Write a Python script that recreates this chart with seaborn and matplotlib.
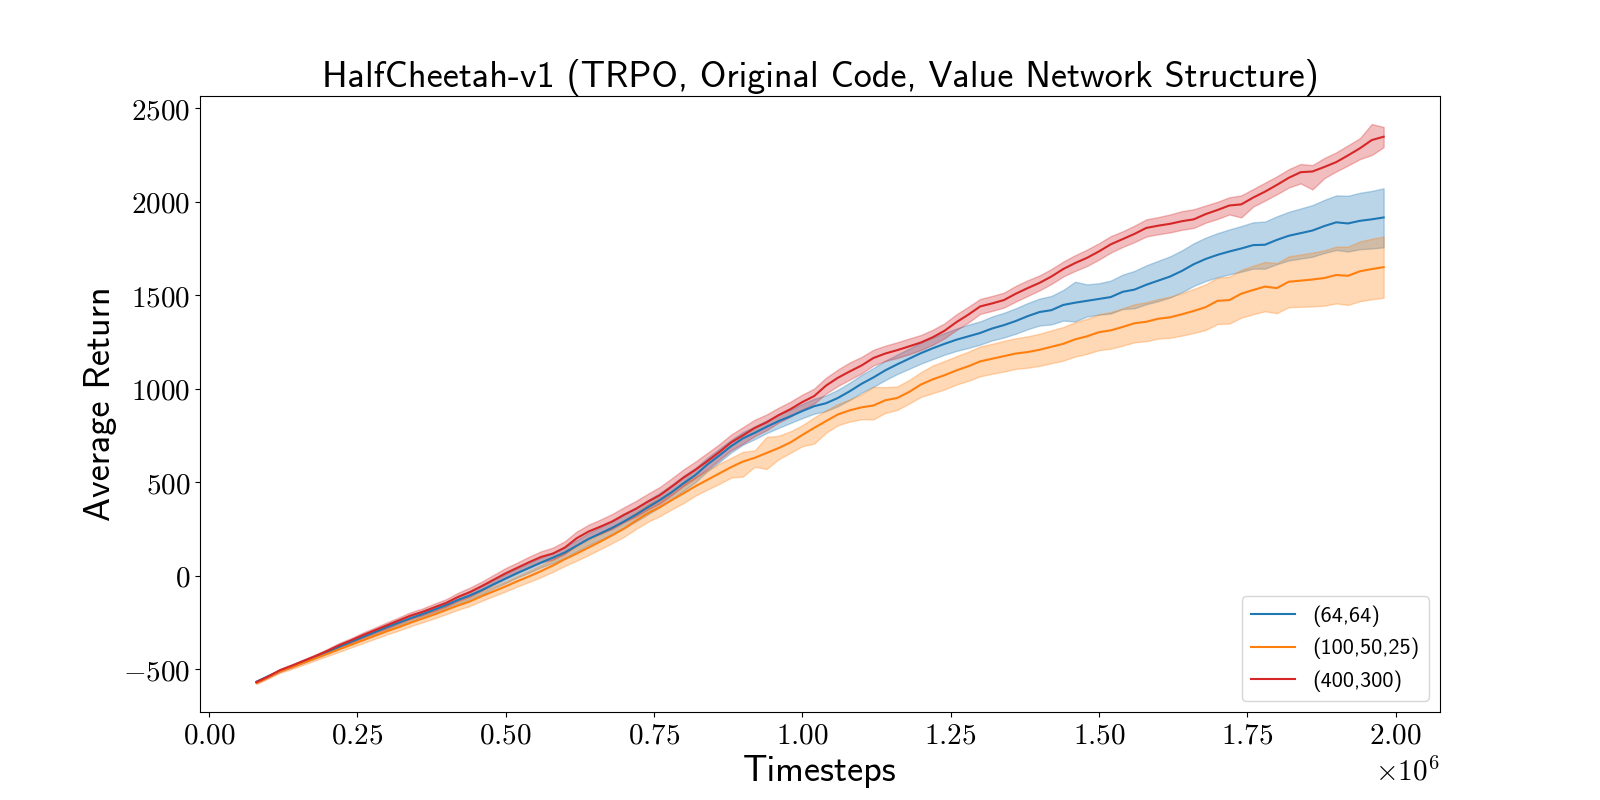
import numpy as np
import pandas as pd
import matplotlib
matplotlib.use("Agg")
import matplotlib.pyplot as plt
from matplotlib.ticker import FuncFormatter, MultipleLocator
import seaborn as sns

# ---------------- data (timesteps in millions) ----------------
timesteps_m = [0.08, 0.10, 0.12, 0.14, 0.16, 0.18, 0.20, 0.22, 0.24, 0.26,
               0.28, 0.30, 0.32, 0.34, 0.36, 0.38, 0.40, 0.42, 0.44, 0.46,
               0.48, 0.50, 0.52, 0.54, 0.56, 0.58, 0.60, 0.62, 0.64, 0.66,
               0.68, 0.70, 0.72, 0.74, 0.76, 0.78, 0.80, 0.82, 0.84, 0.86,
               0.88, 0.90, 0.92, 0.94, 0.96, 0.98, 1.00, 1.02, 1.04, 1.06,
               1.08, 1.10, 1.12, 1.14, 1.16, 1.18, 1.20, 1.22, 1.24, 1.26,
               1.28, 1.30, 1.32, 1.34, 1.36, 1.38, 1.40, 1.42, 1.44, 1.46,
               1.48, 1.50, 1.52, 1.54, 1.56, 1.58, 1.60, 1.62, 1.64, 1.66,
               1.68, 1.70, 1.72, 1.74, 1.76, 1.78, 1.80, 1.82, 1.84, 1.86,
               1.88, 1.90, 1.92, 1.94, 1.96, 1.98]

labels = ["(64,64)", "(100,50,25)", "(400,300)"]
colors = ["#1f77b4", "#ff7f0e", "#d62728"]

# (64,64)
mean_64_64 = [-568, -538, -508, -484, -458, -434, -408, -380, -354, -328,
              -302, -276, -252, -228, -206, -182, -158, -130, -106, -78,
              -46, -16, 14, 42, 70, 96, 124, 160, 196, 226,
              256, 290, 326, 366, 404, 446, 494, 538, 594, 642,
              692, 734, 764, 796, 826, 852, 880, 906, 922, 950,
              986, 1026, 1060, 1098, 1130, 1160, 1190, 1216, 1240, 1262,
              1280, 1298, 1322, 1340, 1362, 1388, 1410, 1420, 1448, 1460,
              1470, 1480, 1490, 1518, 1530, 1556, 1578, 1600, 1630, 1666,
              1694, 1716, 1734, 1750, 1768, 1770, 1796, 1818, 1832, 1846,
              1870, 1890, 1884, 1898, 1906, 1916]
upper_64_64 = [5, 5, 6, 7, 8, 8, 9,
               10, 10, 12, 12, 14, 14, 16, 16, 18, 18,
               20, 20, 22, 22, 24, 24, 26, 26, 28, 30,
               30, 32, 34, 34, 36, 36, 38, 38, 40, 40,
               38, 36, 36, 34, 34, 34, 34, 36, 36, 38,
               40, 42, 44, 46, 48, 50, 52, 52, 54, 56,
               58, 58, 60, 62, 62, 64, 66, 68, 70, 72,
               76, 80, 112, 88, 84, 88, 92, 100, 104, 106,
               108, 110, 112, 114, 116, 118, 120, 122, 124, 126,
               128, 132, 136, 140, 144, 148, 150, 152, 156]
lower_64_64 = [5, 5, 6, 7, 8, 8, 9,
               10, 10, 12, 12, 14, 14, 16, 16, 18, 18,
               20, 20, 22, 22, 24, 24, 26, 26, 28, 30,
               30, 32, 34, 34, 36, 36, 38, 38, 40, 40,
               38, 36, 36, 34, 34, 34, 34, 36, 36, 38,
               40, 42, 44, 46, 48, 50, 52, 52, 54, 56,
               58, 58, 60, 62, 62, 64, 66, 68, 70, 72,
               76, 84, 100, 84, 84, 88, 92, 100, 104, 110,
               112, 114, 116, 118, 120, 122, 124, 126, 128, 130,
               132, 136, 140, 144, 148, 150, 152, 156, 160]

# (100,50,25)
mean_100_50_25 = [-574, -544, -512, -490, -466, -442, -418, -394, -370, -346,
                  -322, -298, -276, -252, -230, -208, -184, -160, -138, -110,
                  -84, -58, -30, -4, 24, 54, 88, 118, 150, 182,
                  216, 252, 294, 334, 366, 404, 440, 478, 512, 546,
                  580, 610, 630, 656, 682, 712, 752, 790, 826, 862,
                  884, 900, 910, 938, 950, 982, 1022, 1050, 1072, 1098,
                  1120, 1146, 1160, 1174, 1188, 1196, 1208, 1224, 1240, 1264,
                  1280, 1302, 1312, 1330, 1350, 1358, 1374, 1382, 1398, 1416,
                  1436, 1470, 1474, 1508, 1528, 1546, 1538, 1572, 1578, 1584,
                  1592, 1608, 1604, 1628, 1640, 1650]
upper_100_50_25 = [6, 7, 8, 9, 10, 11, 12,
                   13, 14, 15, 16, 17, 18, 19, 20, 21, 22,
                   23, 24, 25, 26, 27, 28, 30, 32, 34, 36,
                   38, 40, 40, 42, 44, 44, 46, 48, 50, 52,
                   50, 50, 52, 50, 52, 40, 86, 66, 60, 52,
                   56, 58, 56, 58, 70, 100, 70, 62, 64, 66,
                   74, 76, 76, 78, 80, 80, 82, 82, 84, 86,
                   88, 90, 92, 94, 96, 98, 100, 102, 104, 106,
                   110, 114, 118, 122, 124, 126, 128, 130, 132, 134,
                   136, 140, 144, 148, 152, 156, 160, 162, 164]
lower_100_50_25 = [6, 7, 8, 9, 10, 11, 12,
                   13, 14, 15, 16, 17, 18, 19, 20, 21, 22,
                   23, 24, 25, 26, 27, 28, 30, 32, 34, 36,
                   38, 40, 40, 42, 44, 44, 46, 48, 50, 52,
                   50, 52, 56, 56, 80, 48, 86, 60, 56, 60,
                   84, 62, 58, 60, 64, 74, 68, 64, 62, 66,
                   74, 76, 76, 78, 80, 80, 82, 82, 84, 86,
                   88, 90, 92, 94, 96, 98, 100, 102, 104, 106,
                   110, 114, 118, 122, 124, 126, 128, 130, 132, 134,
                   136, 140, 144, 148, 152, 156, 160, 162, 164]

# (400,300)
mean_400_300 = [-570, -540, -506, -482, -456, -430, -402, -372, -346, -318,
                -292, -266, -240, -214, -194, -170, -146, -114, -88, -56,
                -22, 12, 42, 72, 100, 118, 150, 200, 236, 262,
                290, 326, 358, 396, 430, 476, 524, 566, 612, 660,
                712, 750, 790, 820, 858, 890, 928, 960, 1016, 1058,
                1092, 1124, 1164, 1188, 1206, 1226, 1247, 1275, 1310, 1356,
                1396, 1440, 1456, 1474, 1508, 1538, 1566, 1600, 1640, 1672,
                1700, 1734, 1772, 1800, 1828, 1860, 1872, 1882, 1896, 1906,
                1934, 1956, 1980, 1986, 2022, 2054, 2090, 2128, 2158, 2162,
                2186, 2212, 2248, 2286, 2330, 2348]
upper_400_300 = [6, 6, 7, 8, 8, 9, 10,
                 12, 12, 14, 14, 16, 16, 18, 18, 20, 20,
                 22, 24, 24, 26, 28, 28, 30, 30, 32, 34,
                 36, 36, 38, 40, 40, 42, 42, 44, 44, 44,
                 44, 44, 42, 42, 44, 44, 42, 40, 40, 40,
                 40, 42, 44, 48, 46, 44, 42, 42, 42, 40,
                 40, 40, 42, 42, 40, 40, 40, 42, 42, 40,
                 40, 40, 42, 44, 44, 44, 42, 44, 46, 46,
                 50, 54, 54, 46, 44, 44, 48, 46, 48, 46,
                 46, 44, 34, 48, 52, 54, 54, 86, 52]
lower_400_300 = [6, 6, 7, 8, 8, 9, 10,
                 12, 12, 14, 14, 16, 16, 18, 18, 20, 20,
                 22, 24, 24, 26, 28, 28, 30, 30, 32, 34,
                 36, 36, 38, 40, 40, 42, 42, 44, 44, 44,
                 44, 44, 42, 42, 44, 44, 42, 40, 40, 40,
                 40, 42, 44, 44, 42, 40, 40, 42, 42, 40,
                 40, 40, 42, 42, 40, 40, 40, 42, 42, 40,
                 40, 40, 42, 44, 44, 44, 42, 44, 46, 46,
                 46, 46, 46, 46, 48, 48, 70, 48, 48, 50,
                 52, 60, 96, 60, 50, 54, 58, 80, 56]

means = [mean_64_64, mean_100_50_25, mean_400_300]
uppers = [upper_64_64, upper_100_50_25, upper_400_300]
lowers = [lower_64_64, lower_100_50_25, lower_400_300]

# ---------------- plotting ----------------
plt.rcParams["mathtext.fontset"] = "cm"
plt.rcParams["axes.unicode_minus"] = True

fig, ax = plt.subplots(figsize=(16, 8), dpi=100)

steps = np.array(timesteps_m) * 1e6
for lab, col, m, up, lo in zip(labels, colors, means, uppers, lowers):
    m = np.array(m, dtype=float)
    up = np.array(up, dtype=float)
    lo = np.array(lo, dtype=float)
    df = pd.DataFrame({"Timesteps": steps, "Average Return": m})
    sns.lineplot(data=df, x="Timesteps", y="Average Return", color=col,
                 linewidth=1.5, label=lab, ax=ax)
    ax.fill_between(steps, m - lo, m + up, color=col, alpha=0.3, linewidth=1)

ax.xaxis.set_major_locator(MultipleLocator(250000))
ax.yaxis.set_major_locator(MultipleLocator(500))
ax.xaxis.set_major_formatter(FuncFormatter(lambda v, p: f"${v/1e6:.2f}$"))
ax.yaxis.set_major_formatter(FuncFormatter(lambda v, p: f"${v:.0f}$"))
ax.tick_params(labelsize=21)
ax.text(1.0, -0.074, r"$\times10^{6}$", transform=ax.transAxes,
        ha="right", va="top", fontsize=21)

sans = {"family": "cmss10", "size": 26}
ax.set_title("HalfCheetah-v1 (TRPO, Original Code, Value Network Structure)",
             fontdict=sans)
ax.set_xlabel("Timesteps", fontdict=sans)
ax.set_ylabel("Average Return", fontdict=sans)

ax.legend(loc="lower right", prop={"family": "cmss10", "size": 16})

fig.savefig("out.png", dpi=100)
